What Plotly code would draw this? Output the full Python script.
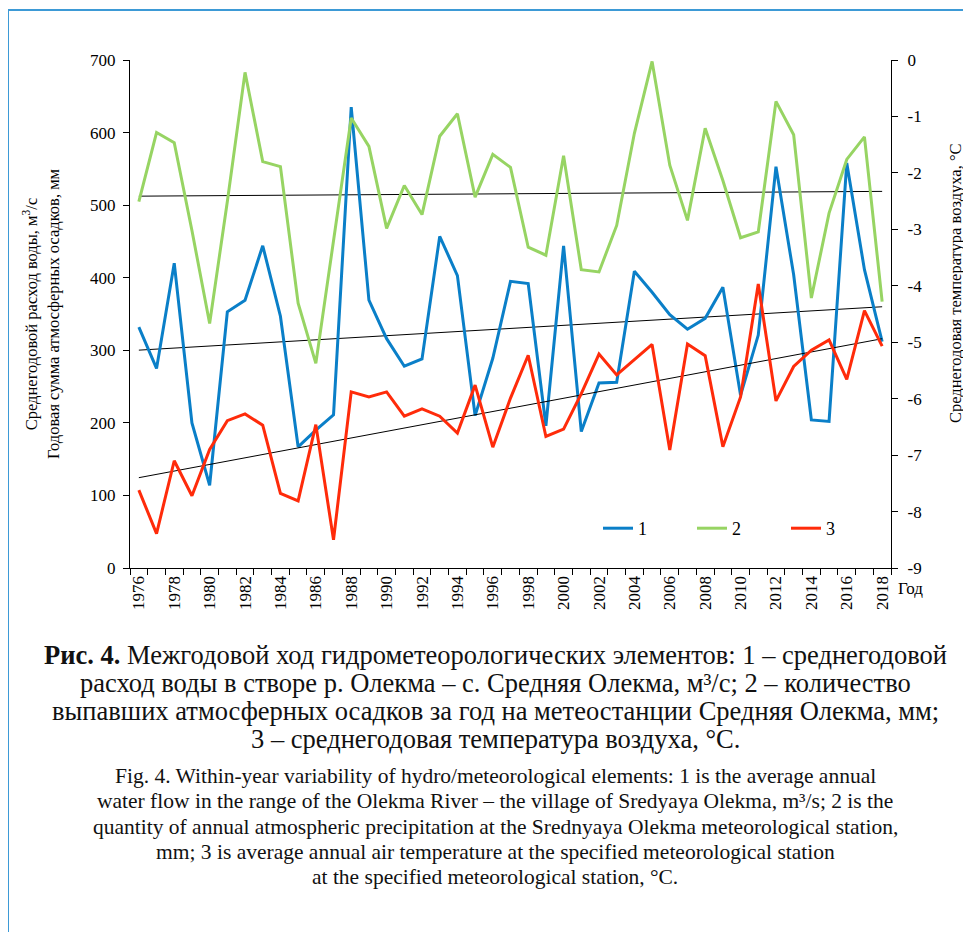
import numpy as np
import plotly.graph_objects as go

years = list(range(1976, 2019))
flow = [332, 275, 420, 200, 114, 353, 369, 444, 347, 167, 190, 211, 635, 369, 316, 278, 288,
        457, 403, 210, 289, 395, 392, 196, 444, 188, 255, 256, 409, 380, 349, 329, 344, 387,
        238, 321, 553, 404, 204, 202, 558, 411, 312]
precip = [505, 600, 586, 465, 337, 505, 683, 560, 553, 365, 282, 450, 620, 581, 468, 527, 487,
          595, 626, 511, 570, 552, 442, 431, 568, 411, 408, 472, 599, 698, 555, 479, 606, 534,
          455, 463, 643, 597, 372, 489, 563, 594, 367]
temp = [-7.62, -8.39, -7.10, -7.72, -6.90, -6.39, -6.27, -6.47, -7.68, -7.81, -6.46, -8.50,
        -5.88, -5.97, -5.88, -6.31, -6.18, -6.31, -6.61, -5.76, -6.86, -5.99, -5.23, -6.67,
        -6.54, -5.91, -5.21, -5.58, -5.31, -5.04, -6.91, -5.03, -5.24, -6.85, -5.97, -3.97,
        -6.04, -5.43, -5.14, -4.96, -5.66, -4.44, -5.07]
series_names = ["1", "2", "3"]
left_ticks = [0, 100, 200, 300, 400, 500, 600, 700]
right_ticks = [0, -1, -2, -3, -4, -5, -6, -7, -8, -9]
label_years = list(range(1976, 2019, 2))

ru_lines = [
    "<b>Рис. 4.</b> Межгодовой ход гидрометеорологических элементов: 1 – среднегодовой",
    "расход воды в створе р. Олекма – с. Средняя Олекма, м³/с; 2 – количество",
    "выпавших атмосферных осадков за год на метеостанции Средняя Олекма, мм;",
    "3 – среднегодовая температура воздуха, °С.",
]
en_lines = [
    "Fig. 4. Within-year variability of hydro/meteorological elements: 1 is the average annual",
    "water flow in the range of the Olekma River – the village of Sredyaya Olekma, m³/s; 2 is the",
    "quantity of annual atmospheric precipitation at the Srednyaya Olekma meteorological station,",
    "mm; 3 is average annual air temperature at the specified meteorological station",
    "at the specified meteorological station, °C.",
]

BLUE = "#0A7FC8"
GREEN = "#97D463"
RED = "#FF2B0A"
FONT = "Liberation Serif"

W, H = 971, 932
OFF = 8  # page body margin
L, R, T, B = 122, 88, 52, 372
pw, ph = W - L - R, H - T - B


def px(x):
    return (x - OFF - L) / pw


def py(y):
    return (H - B - (y - OFF)) / ph


yrs = np.array(years, dtype=float)


def trend(vals):
    k, b = np.polyfit(yrs, np.array(vals, dtype=float), 1)
    return (k * yrs + b).tolist()


fig = go.Figure()
fig.add_trace(go.Scatter(x=years, y=trend(precip), mode="lines",
                         line=dict(color="black", width=1), showlegend=False))
fig.add_trace(go.Scatter(x=years, y=trend(flow), mode="lines",
                         line=dict(color="black", width=1), showlegend=False))
fig.add_trace(go.Scatter(x=years, y=trend(temp), mode="lines", yaxis="y2",
                         line=dict(color="black", width=1), showlegend=False))
fig.add_trace(go.Scatter(x=years, y=flow, mode="lines", name=series_names[0],
                         line=dict(color=BLUE, width=3)))
fig.add_trace(go.Scatter(x=years, y=precip, mode="lines", name=series_names[1],
                         line=dict(color=GREEN, width=3)))
fig.add_trace(go.Scatter(x=years, y=temp, mode="lines", name=series_names[2], yaxis="y2",
                         line=dict(color=RED, width=3)))

annotations = [
    dict(text="Год", x=px(925), y=py(600), xref="paper", yref="paper",
         showarrow=False, font=dict(size=17, family=FONT)),
    dict(text="Среднегодовая температура воздуха, °С", x=px(955), y=py(283),
         xref="paper", yref="paper", showarrow=False, textangle=-90,
         xanchor="center", yanchor="middle", font=dict(size=16.5, family=FONT)),
]
ru_y = [655, 683, 711, 739]
for txt, yy in zip(ru_lines, ru_y):
    annotations.append(dict(text=txt, x=px(495), y=py(yy), xref="paper", yref="paper",
                            showarrow=False, xanchor="center", yanchor="middle",
                            font=dict(size=26.5, family=FONT, color="#111")))
en_y = [776, 801, 827, 852, 877]
for txt, yy in zip(en_lines, en_y):
    annotations.append(dict(text=txt, x=px(495), y=py(yy), xref="paper", yref="paper",
                            showarrow=False, xanchor="center", yanchor="middle",
                            font=dict(size=21.5, family=FONT, color="#111")))

fig.update_layout(
    width=W, height=H,
    margin=dict(l=L, r=R, t=T, b=B, autoexpand=False),
    paper_bgcolor="white", plot_bgcolor="white",
    font=dict(family=FONT, color="black", size=17),
    showlegend=True,
    legend=dict(orientation="h", x=px(598), y=py(510), xanchor="left", yanchor="top",
                entrywidth=49, entrywidthmode="pixels", font=dict(size=18, family=FONT),
                bgcolor="rgba(0,0,0,0)"),
    xaxis=dict(range=[1975.5, 2018.5], tickvals=label_years, ticktext=[str(v) for v in label_years],
               tickangle=-90, ticks="", showline=True, linecolor="black", linewidth=1.2,
               showgrid=False, zeroline=False, automargin=False,
               tickfont=dict(size=17, family=FONT),
               minor=dict(ticks="outside", tick0=1975.5, dtick=1, ticklen=6, tickcolor="black",
                          tickwidth=1, showgrid=False)),
    yaxis=dict(range=[0, 700], tickvals=left_ticks, ticks="outside", ticklen=6, tickcolor="black",
               showline=True, linecolor="black", linewidth=1.2, showgrid=False, zeroline=False,
               automargin=False, ticklabelstandoff=4,
               tickfont=dict(size=17, family=FONT),
               title=dict(text="Среднегодовой расход воды, м<sup>3</sup>/с<br>Годовая сумма атмосферных осадков, мм",
                          font=dict(size=16.5, family=FONT), standoff=26)),
    yaxis2=dict(range=[-9, 0], tickvals=right_ticks, ticktext=[str(v) for v in right_ticks],
                overlaying="y", side="right", ticks="outside",
                ticklen=6, tickcolor="black", showline=True, linecolor="black", linewidth=1.2,
                showgrid=False, zeroline=False, automargin=False, ticklabelstandoff=6,
                tickfont=dict(size=17, family=FONT)),
    annotations=annotations,
    shapes=[dict(type="rect", xref="paper", yref="paper", x0=px(8), x1=px(1000), y0=py(10), y1=py(980),
                 line=dict(color="#3D9AD6", width=2), fillcolor="rgba(0,0,0,0)", layer="below")],
)

fig.write_html("out.html")
